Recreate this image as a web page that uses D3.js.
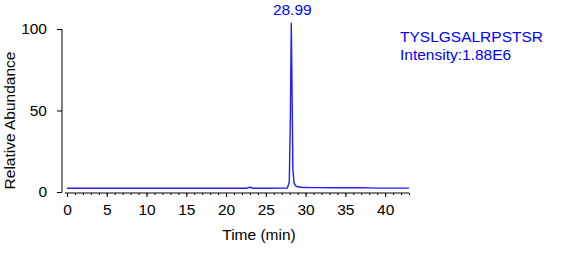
<!DOCTYPE html>
<html>
<head>
<meta charset="utf-8">
<script src="https://cdn.jsdelivr.net/npm/d3@7"></script>
<style>
  html, body { margin: 0; padding: 0; background: #fff; }
  svg { display: block; font-family: "Liberation Sans", Arial, sans-serif; }
</style>
</head>
<body>
<svg id="chart" width="572" height="262"></svg>
<script>
// ---- data ----
const times = [0, 5, 10, 15, 20, 22.6, 23.0, 23.4, 25, 27.7, 27.95, 28.08, 28.2, 28.3, 28.4, 28.55, 28.75, 29.0, 29.5, 30, 31, 32, 33, 34, 35, 36, 37, 38, 39, 40, 41, 42, 43];
const abundance = [2.3, 2.3, 2.3, 2.3, 2.3, 2.3, 3.0, 2.3, 2.3, 2.4, 6, 45, 103.5, 60, 14, 5.5, 3.8, 3.2, 2.9, 2.8, 2.7, 2.7, 2.6, 2.7, 2.6, 2.6, 2.7, 2.5, 2.4, 2.4, 2.4, 2.4, 2.4];
const xTicks = [0, 5, 10, 15, 20, 25, 30, 35, 40];
const xMinorTicks = d3.range(0, 44, 1);
const yTicks = [0, 50, 100];
const peakLabel = "28.99";
const peakTime = 28.2;
const peptide = "TYSLGSALRPSTSR";
const intensityLabel = "Intensity:1.88E6";
const xTitle = "Time (min)";
const yTitle = "Relative Abundance";

// ---- drawing ----
const svg = d3.select("#chart");
const fontSize = 15.5;
const x = d3.scaleLinear().domain([0, 43]).range([67, 409]);
const y = d3.scaleLinear().domain([0, 100]).range([192, 29]);

// y axis
const yAxis = d3.axisLeft(y).tickValues(yTicks).tickSize(5).tickPadding(10).tickFormat(d3.format("d"));
const gy = svg.append("g").attr("transform", "translate(62,0)").call(yAxis);
gy.select(".domain").attr("d", `M0,${y(100)}V${y(0)}`).attr("stroke", "#000");
gy.selectAll(".tick line").attr("stroke", "#000");
gy.selectAll(".tick text").attr("font-size", fontSize).attr("fill", "#000").attr("font-family", "Liberation Sans, Arial, sans-serif");

// x axis: minor ticks
const gxMinor = svg.append("g").attr("transform", "translate(0,193)")
  .call(d3.axisBottom(x).tickValues(xMinorTicks).tickSize(2).tickFormat(""));
gxMinor.select(".domain").attr("d", `M${x(-0.25)},0H${x(43)}`).attr("stroke", "#000");
gxMinor.selectAll(".tick line").attr("stroke", "#000");

// x axis: major ticks + labels
const gx = svg.append("g").attr("transform", "translate(0,193)")
  .call(d3.axisBottom(x).tickValues(xTicks).tickSize(4).tickPadding(7).tickFormat(d3.format("d")));
gx.select(".domain").remove();
gx.selectAll(".tick line").attr("stroke", "#000");
gx.selectAll(".tick text").attr("font-size", fontSize).attr("fill", "#000").attr("font-family", "Liberation Sans, Arial, sans-serif");

// trace
const pts = times.map((t, i) => [t, abundance[i]]);
const line = d3.line().x(d => x(d[0])).y(d => y(d[1]));
svg.append("path").datum(pts)
  .attr("d", line)
  .attr("fill", "none")
  .attr("stroke", "#1f1fff")
  .attr("stroke-width", 1.4)
  .attr("stroke-linejoin", "round");

// peak label
svg.append("text")
  .attr("x", x(peakTime) + 1)
  .attr("y", 15)
  .attr("text-anchor", "middle")
  .attr("font-size", fontSize)
  .attr("fill", "#0000ff")
  .text(peakLabel);

// annotation
svg.append("text").attr("x", 400).attr("y", 41.5).attr("font-size", fontSize).attr("fill", "#0000ff").text(peptide);
svg.append("text").attr("x", 400).attr("y", 60).attr("font-size", fontSize).attr("fill", "#0000ff").text(intensityLabel);

// axis titles
svg.append("text").attr("x", 259).attr("y", 239.5).attr("text-anchor", "middle")
  .attr("font-size", fontSize).attr("fill", "#000").text(xTitle);
svg.append("text").attr("transform", "translate(15,120.5) rotate(-90)").attr("text-anchor", "middle")
  .attr("font-size", fontSize).attr("fill", "#000").text(yTitle);
</script>
</body>
</html>
